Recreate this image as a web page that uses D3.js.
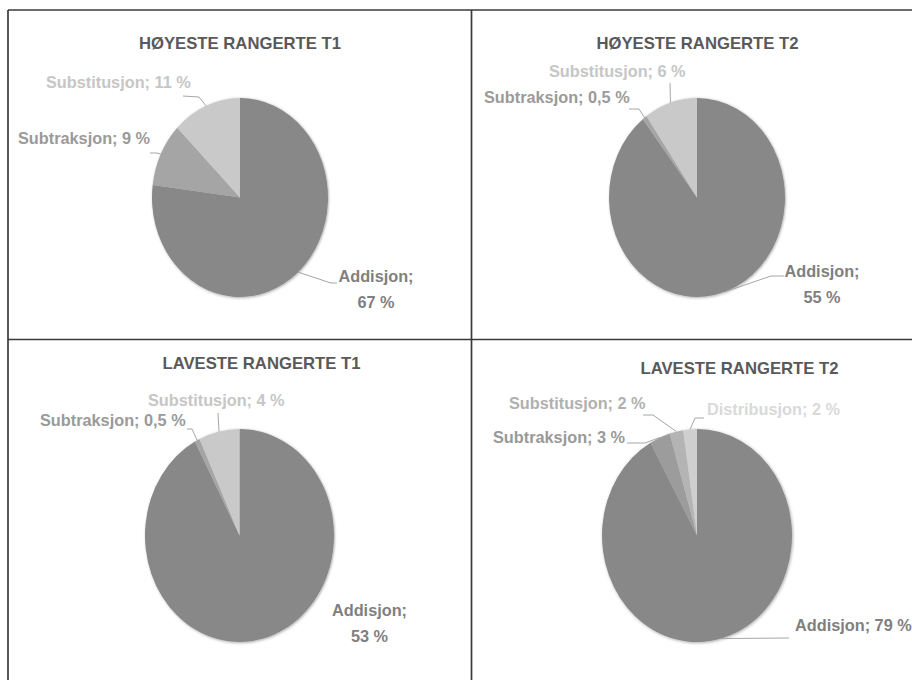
<!DOCTYPE html>
<html>
<head>
<meta charset="utf-8">
<script src="https://cdn.jsdelivr.net/npm/d3@7"></script>
<style>
  html, body { margin: 0; padding: 0; background: #ffffff; }
  svg { display: block; }
  text { font-family: "Liberation Sans", Arial, sans-serif; font-weight: bold; }
</style>
</head>
<body>
<script>
// ---- data ----
const titles = ["HØYESTE RANGERTE T1", "HØYESTE RANGERTE T2", "LAVESTE RANGERTE T1", "LAVESTE RANGERTE T2"];
const categoriesT = ["Addisjon", "Subtraksjon", "Substitusjon"];
const categoriesL2 = ["Addisjon", "Subtraksjon", "Substitusjon", "Distribusjon"];
const hoyesteT1 = [67, 9, 11];
const hoyesteT2 = [55, 0.5, 6];
const lavesteT1 = [53, 0.5, 4];
const lavesteT2 = [79, 3, 2, 2];

const chartCategories = [categoriesT, categoriesT, categoriesT, categoriesL2];
const chartValues = [hoyesteT1, hoyesteT2, lavesteT1, lavesteT2];

// ---- styling / layout ----
const W = 912, H = 680;
const sliceColors3 = ["#888888", "#a5a5a5", "#c9c9c9"];
const sliceColors4 = ["#888888", "#9c9c9c", "#b4b4b4", "#cfcfcf"];
const labelColors3 = ["#7f7f7f", "#9a9a9a", "#c6c6c6"];
const labelColors4 = ["#7f7f7f", "#999999", "#b0b0b0", "#d9d9d9"];

// pie centre, ellipse radii and title anchor for each panel
const panels = [
  { cx: 240,   cy: 197.5, rx: 88,   ry: 99.5,  tx: 240,   ty: 49  },
  { cx: 697,   cy: 197.5, rx: 88,   ry: 99.5,  tx: 697.5, ty: 49  },
  { cx: 239.5, cy: 535.5, rx: 94.5, ry: 106.5, tx: 261.5, ty: 369 },
  { cx: 697,   cy: 535.5, rx: 95,   ry: 106.5, tx: 739.5, ty: 374 }
];

// label placement per slice: text anchor point, optional wrap, leader elbow/end
const labelLayout = [
  [
    { x: 376, y: 282, anchor: "middle", wrap: true, leader: [[331, 283], [337, 283]] },
    { x: 18,  y: 144, anchor: "start", leader: [[157, 153], [150, 153]] },
    { x: 46,  y: 88,  anchor: "start", leader: [[199, 97], [183, 96]] }
  ],
  [
    { x: 822, y: 277, anchor: "middle", wrap: true, leader: [[771, 276], [784, 276]] },
    { x: 484, y: 103, anchor: "start", leader: [[639, 109], [629, 109]] },
    { x: 549, y: 77,  anchor: "start", leader: [[670, 83]] }
  ],
  [
    { x: 369.5, y: 616, anchor: "middle", wrap: true, leader: null },
    { x: 40,  y: 426, anchor: "start", leader: [[192, 429], [187, 429]] },
    { x: 148, y: 406, anchor: "start", leader: [[218, 413]] }
  ],
  [
    { x: 795, y: 631, anchor: "start", leader: [[789, 638]] },
    { x: 493, y: 443, anchor: "start", leader: [[645, 443], [627, 443]] },
    { x: 509, y: 409, anchor: "start", leader: [[653, 415], [643, 415]] },
    { x: 707, y: 415, anchor: "start", leader: [[695, 418], [704, 418]] }
  ]
];

const fmtPct = v => String(v).replace(".", ",") + " %";

const svg = d3.select("body").append("svg")
  .attr("width", W).attr("height", H);

const defs = svg.append("defs");
const shadow = defs.append("filter").attr("id", "pieShadow")
  .attr("x", "-10%").attr("y", "-10%").attr("width", "120%").attr("height", "120%");
shadow.append("feDropShadow")
  .attr("dx", 0.8).attr("dy", 0.8).attr("stdDeviation", 1.4)
  .attr("flood-color", "#000").attr("flood-opacity", 0.35);

svg.append("rect").attr("width", W).attr("height", H).attr("fill", "#ffffff");

// panel frame
const frame = svg.append("g").attr("stroke", "#3a3a3a").attr("stroke-width", 1.7).attr("fill", "none");
frame.append("line").attr("x1", 8).attr("y1", 10).attr("x2", W).attr("y2", 10);
frame.append("line").attr("x1", 8).attr("y1", 10).attr("x2", 8).attr("y2", H);
frame.append("line").attr("x1", 471.5).attr("y1", 10).attr("x2", 471.5).attr("y2", H);
frame.append("line").attr("x1", 8).attr("y1", 339.5).attr("x2", W).attr("y2", 339.5);

const R = 100;
const pie = d3.pie().sort(null).value(d => d.value);
const arc = d3.arc().innerRadius(0).outerRadius(R);

panels.forEach((p, i) => {
  const cats = chartCategories[i];
  const vals = chartValues[i];
  const data = cats.map((c, k) => ({ category: c, value: vals[k] }));
  const colors = cats.length === 4 ? sliceColors4 : sliceColors3;
  const lColors = cats.length === 4 ? labelColors4 : labelColors3;
  const arcs = pie(data);

  const g = svg.append("g");

  // title
  g.append("text")
    .attr("x", p.tx).attr("y", p.ty)
    .attr("text-anchor", "middle")
    .attr("font-size", 16.7)
    .attr("fill", "#595959")
    .text(titles[i]);

  // pie, drawn on a circle and stretched into the panel's ellipse
  g.append("g")
    .attr("transform", `translate(${p.cx},${p.cy}) scale(${p.rx / R},${p.ry / R})`)
    .attr("filter", "url(#pieShadow)")
    .selectAll("path")
    .data(arcs)
    .join("path")
    .attr("d", arc)
    .attr("fill", (d, k) => colors[k]);

  // labels and leader lines
  arcs.forEach((d, k) => {
    const L = labelLayout[i][k];
    const mid = (d.startAngle + d.endAngle) / 2;
    const sx = p.cx + p.rx * Math.sin(mid);
    const sy = p.cy - p.ry * Math.cos(mid);

    if (L.leader) {
      const pts = [[sx, sy], ...L.leader];
      g.append("path")
        .attr("d", d3.line()(pts))
        .attr("fill", "none")
        .attr("stroke", "#a6a6a6")
        .attr("stroke-width", 1);
    }

    const t = g.append("text")
      .attr("x", L.x).attr("y", L.y)
      .attr("text-anchor", L.anchor)
      .attr("font-size", 16.3)
      .attr("fill", lColors[k]);
    if (L.wrap) {
      t.append("tspan").attr("x", L.x).text(d.data.category + ";");
      t.append("tspan").attr("x", L.x).attr("dy", 25.5).text(fmtPct(d.data.value));
    } else {
      t.text(d.data.category + "; " + fmtPct(d.data.value));
    }
  });
});
</script>
</body>
</html>
